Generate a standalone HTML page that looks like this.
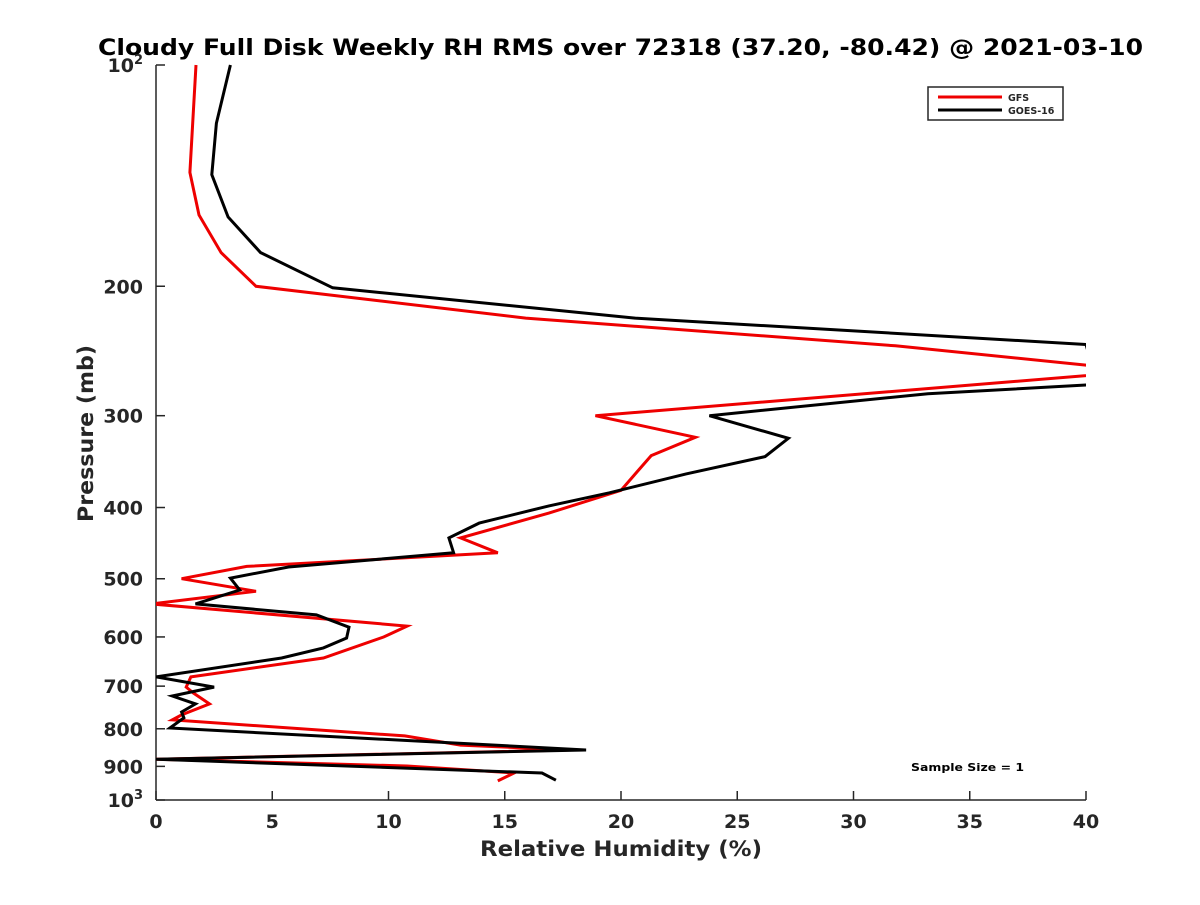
<!DOCTYPE html>
<html><head><meta charset="utf-8"><style>
body{margin:0;background:#fff}
svg text{font-family:"DejaVu Sans","Liberation Sans",sans-serif;font-weight:bold;fill:#262626}
</style></head><body>
<svg id="chart" width="1200" height="900" viewBox="0 0 1200 900" xmlns="http://www.w3.org/2000/svg">
<rect width="1200" height="900" fill="#fff"/>
<text x="98" y="55" textLength="1045" lengthAdjust="spacingAndGlyphs" font-size="22" style="fill:#000">Cloudy Full Disk Weekly RH RMS over 72318 (37.20, -80.42) @ 2021-03-10</text>
<defs><clipPath id="plotclip"><rect x="156" y="60" width="930" height="745"/></clipPath></defs>
<g id="axes"></g>
<g id="series" clip-path="url(#plotclip)"></g>
<g>
<rect x="928" y="87" width="135" height="33" fill="#fff" stroke="#262626" stroke-width="1.5"/>
<line x1="938" y1="97" x2="1002" y2="97" stroke="#e00" stroke-width="3"/>
<text x="1008" y="101" font-size="9.5">GFS</text>
<line x1="938" y1="110" x2="1002" y2="110" stroke="#000" stroke-width="3"/>
<text x="1008" y="114" font-size="9.5">GOES-16</text>
</g>
<text x="911" y="771" font-size="11" textLength="113" lengthAdjust="spacingAndGlyphs" style="fill:#000">Sample Size = 1</text>
<text x="480" y="856" textLength="282" lengthAdjust="spacingAndGlyphs" font-size="21">Relative Humidity (%)</text>
<text transform="translate(93,522) rotate(-90)" textLength="177" lengthAdjust="spacingAndGlyphs" font-size="21">Pressure (mb)</text>
</svg>
<script>
const xTicks=[0,5,10,15,20,25,30,35,40];
const yTicks=[100,200,300,400,500,600,700,800,900,1000];
const yTickBase=["10","200","300","400","500","600","700","800","900","10"];
const yTickSup=["2","","","","","","","","","3"];
const gfsPressure=[100,140,160,180,200,221,241,256,263,300,321,340,379,407,440,461,481,500,520,541,580,600,641,680,702,715,740,766,778,818,842,855,880,899,919,942];
const gfsRH=[1.72,1.46,1.85,2.8,4.3,15.9,31.8,40,41,18.9,23.2,21.3,20.0,16.9,13.1,14.7,3.9,1.1,4.3,-0.2,10.8,9.8,7.2,1.5,1.3,1.6,2.3,1.1,0.7,10.7,13.1,17.8,0,10.8,15.4,14.7];
const goesPressure=[100,120,141,161,180,201,221,240,272,280,300,322,341,360,382,398,420,440,461,482,499,518,541,560,582,602,621,641,680,702,722,740,759,773,798,855,880,919,940];
const goesRH=[3.2,2.6,2.4,3.1,4.5,7.6,20.6,40,40.5,33.2,23.8,27.2,26.2,22.8,19.5,16.9,13.9,12.6,12.8,5.7,3.2,3.6,1.7,6.9,8.3,8.2,7.2,5.4,0,2.5,0.7,1.7,1.1,1.2,0.6,18.5,0,16.6,17.2];
const X0=156,X1=1086,Y0=65,Y1=800;
const xs=v=>X0+(v-0)/(40-0)*(X1-X0);
const ys=p=>Y0+(Math.log10(p)-2)*(Y1-Y0);
const NS="http://www.w3.org/2000/svg";
const axes=document.getElementById('axes');
function mk(tag,attrs,parent){const e=document.createElementNS(NS,tag);for(const k in attrs)e.setAttribute(k,attrs[k]);parent.appendChild(e);return e;}
const yl=mk('line',{x1:X0,y1:Y0,x2:X0,y2:Y1,stroke:'#262626','stroke-width':1.5},axes);


const xl=mk('line',{x1:X0,y1:Y1,x2:X1,y2:Y1,stroke:'#262626','stroke-width':1.5},axes);


xTicks.forEach(v=>{
  const x=xs(v);
  mk('line',{x1:x,y1:Y1,x2:x,y2:Y1-9,stroke:'#262626','stroke-width':1.5},axes);
  const t=mk('text',{x:x,y:Y1+28,'text-anchor':'middle','font-size':19},axes);
  t.textContent=v;
  
  
});
yTicks.forEach((p,i)=>{
  const y=ys(p);
  mk('line',{x1:X0,y1:y,x2:X0+9,y2:y,stroke:'#262626','stroke-width':1.5},axes);
  const sup=yTickSup[i];
  const t=mk('text',{x:sup?X0-22:X0-13,y:y+7,'text-anchor':'end','font-size':19},axes);
  t.textContent=yTickBase[i];
  
  
  if(sup){
    const s=mk('text',{x:X0-13,y:y-1,'text-anchor':'end','font-size':13},axes);
    s.textContent=sup;
    
    
  }
});
const series=document.getElementById('series');
function line(pr,rh,color,name){
  const d=pr.map((p,i)=>(i?'L':'M')+xs(rh[i]).toFixed(1)+','+ys(p).toFixed(1)).join(' ');
  const e=mk('path',{d:d,fill:'none',stroke:color,'stroke-width':3,'stroke-linejoin':'miter'},series);
  
  
}
line(gfsPressure,gfsRH,'#e00','gfs-line');
line(goesPressure,goesRH,'#000','goes16-line');
</script>
</body></html>
